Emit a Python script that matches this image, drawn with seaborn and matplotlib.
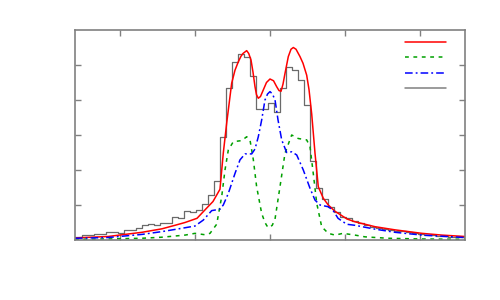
import numpy as np
import pandas as pd
import matplotlib
matplotlib.use("Agg")
import matplotlib.pyplot as plt
import seaborn as sns
from matplotlib.lines import Line2D

# ---- data ----
hist_start = -2.665
hist_width = 0.08
hist_heights = [0.08, 0.08, 0.14, 0.14, 0.16, 0.16, 0.22, 0.22, 0.20, 0.29,
                0.29, 0.33, 0.43, 0.46, 0.43, 0.50, 0.50, 0.67, 0.64, 0.84,
                0.81, 0.86, 1.04, 1.29, 1.69, 2.95, 4.33, 5.09, 5.30, 5.24,
                4.69, 3.74, 3.74, 3.92, 3.66, 4.35, 4.93, 4.86, 4.57, 3.86,
                2.25, 1.48, 1.16, 0.95, 0.80, 0.67, 0.62, 0.55, 0.50, 0.43,
                0.38, 0.35, 0.32, 0.30, 0.27, 0.25, 0.22, 0.19, 0.17, 0.15,
                0.13, 0.12, 0.11, 0.10, 0.09, 0.08]

red_x = [-2.6, -2.16, -1.707, -1.44, -1.267, -1.133, -0.973, -0.867, -0.76, -0.667,
         -0.623, -0.577, -0.511, -0.467, -0.423, -0.387, -0.36, -0.311, -0.284, -0.253,
         -0.227, -0.2, -0.18, -0.156, -0.127, -0.089, -0.047, 0.0, 0.047, 0.089,
         0.12, 0.147, 0.173, 0.2, 0.244, 0.28, 0.311, 0.347, 0.4, 0.44,
         0.489, 0.52, 0.556, 0.6, 0.644, 0.711, 0.777, 0.867, 1.027, 1.133,
         1.4, 1.667, 2.027, 2.293, 2.6]
red_y = [0.06, 0.10, 0.22, 0.32, 0.42, 0.50, 0.62, 0.86, 1.10, 1.45,
         2.48, 3.35, 4.48, 4.85, 5.09, 5.25, 5.33, 5.41, 5.33, 5.14,
         4.80, 4.38, 4.15, 4.05, 4.10, 4.29, 4.50, 4.60, 4.55, 4.38,
         4.27, 4.25, 4.45, 4.76, 5.24, 5.45, 5.50, 5.45, 5.24, 5.05,
         4.71, 4.30, 3.60, 2.48, 1.52, 1.19, 1.00, 0.82, 0.60, 0.52,
         0.38, 0.29, 0.19, 0.14, 0.10]

blue_x = [-2.6, -2.16, -1.707, -1.44, -1.133, -1.0, -0.889, -0.777, -0.667, -0.623,
          -0.556, -0.467, -0.4, -0.333, -0.244, -0.2, -0.156, -0.111, -0.067, -0.033,
          0.0, 0.033, 0.067, 0.107, 0.156, 0.222, 0.289, 0.356, 0.444, 0.533,
          0.6, 0.667, 0.777, 0.84, 0.907, 1.023, 1.133, 1.4, 1.667, 2.027, 2.6]
blue_y = [0.05, 0.07, 0.16, 0.24, 0.35, 0.40, 0.57, 0.84, 0.88, 1.00,
          1.33, 1.90, 2.29, 2.46, 2.46, 2.60, 2.95, 3.43, 4.00, 4.17,
          4.24, 4.17, 4.00, 3.43, 2.86, 2.50, 2.52, 2.43, 2.00, 1.48,
          1.14, 1.00, 0.95, 0.85, 0.62, 0.45, 0.42, 0.31, 0.22, 0.14, 0.07]

green_x = [-2.6, -2.16, -1.707, -1.44, -1.133, -1.0, -0.867, -0.8, -0.711, -0.644,
           -0.6, -0.556, -0.489, -0.377, -0.311, -0.267, -0.222, -0.178, -0.111, -0.067,
           -0.04, -0.013, 0.03, 0.067, 0.133, 0.2, 0.289, 0.377, 0.489, 0.533,
           0.577, 0.623, 0.689, 0.777, 0.867, 0.973, 1.133, 1.267, 1.573, 2.0, 2.6]
green_y = [0.02, 0.03, 0.05, 0.08, 0.14, 0.19, 0.15, 0.19, 0.45, 1.24,
           2.00, 2.57, 2.81, 2.84, 2.95, 2.86, 2.29, 1.52, 0.76, 0.50,
           0.40, 0.35, 0.42, 0.60, 1.52, 2.48, 3.00, 2.90, 2.86, 2.67,
           1.90, 1.05, 0.38, 0.19, 0.14, 0.19, 0.14, 0.09, 0.05, 0.03, 0.02]

x_ticks = [-2, -1, 0, 1, 2]
y_ticks = [1, 2, 3, 4, 5]

# ---- styling ----
sns.set_style("white")
frame_col = "#808080"

fig = plt.figure(figsize=(5, 3), dpi=100)
ax = fig.add_axes([0.15, 0.2, 0.78, 0.7])

edges = [hist_start + hist_width * i for i in range(len(hist_heights) + 1)]
hist_df = pd.DataFrame({
    "center": [(edges[i] + edges[i + 1]) / 2 for i in range(len(hist_heights))],
    "height": hist_heights,
})
sns.histplot(data=hist_df, x="center", weights="height", bins=edges,
             element="step", fill=False, color="#6a6a6a", linewidth=0.9, ax=ax)

sns.lineplot(x=red_x, y=red_y, sort=False, color="#ff0000", linewidth=1.1, ax=ax)
sns.lineplot(x=green_x, y=green_y, sort=False, color="#00a000", linewidth=1.1, ax=ax)
ax.get_lines()[-1].set_dashes([2.5, 3])
sns.lineplot(x=blue_x, y=blue_y, sort=False, color="#0000ff", linewidth=1.1, ax=ax)
ax.get_lines()[-1].set_dashes([5, 2, 1.2, 2])

ax.set_xlim(-2.6, 2.6)
ax.set_ylim(0, 6)
ax.set_xticks(x_ticks)
ax.set_yticks(y_ticks)
ax.set_xticklabels([])
ax.set_yticklabels([])
ax.set_xlabel("")
ax.set_ylabel("")
ax.tick_params(direction="in", length=4, width=1, color=frame_col,
               top=True, right=True, bottom=True, left=True)
for s in ax.spines.values():
    s.set_color(frame_col)
    s.set_linewidth(1.2)
    s.set_visible(True)

handles = [Line2D([], [], color="#ff0000", lw=1.1),
           Line2D([], [], color="#00a000", lw=1.1, dashes=[2.5, 3]),
           Line2D([], [], color="#0000ff", lw=1.1, dashes=[5, 2, 1.2, 2]),
           Line2D([], [], color="#808080", lw=1.1)]
ax.legend(handles, [" ", " ", " ", " "], loc="upper right",
          bbox_to_anchor=(0.995, 0.999), frameon=False, fontsize=8,
          handlelength=3.7, handletextpad=0.5, labelspacing=0.47,
          borderaxespad=0.3)

fig.savefig("out.png", dpi=100)
